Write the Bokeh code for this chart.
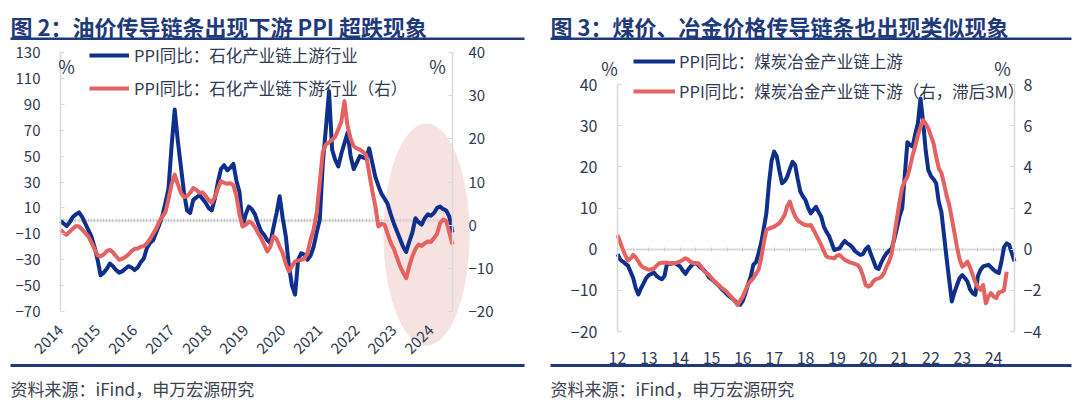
import math
from bokeh.plotting import figure
from bokeh.models import (Range1d, LinearAxis, FixedTicker, Label, BoxAnnotation,
                          PolyAnnotation, Legend, LegendItem)
from bokeh.layouts import row
from bokeh.embed import file_html
from bokeh.resources import INLINE

# ---------------- data: figure 2 (monthly, 2014-01 .. 2024-08) ----------------
fig2_title = "图 2：油价传导链条出现下游 PPI 超跌现象"
fig2_names = ["PPI同比：石化产业链上游行业", "PPI同比：石化产业链下游行业（右）"]
fig2_years = ["2014", "2015", "2016", "2017", "2018", "2019", "2020", "2021", "2022", "2023", "2024"]
fig2_upstream = [
    0, -2, -4, -1, 3, 5, 6.5, 3, -2, -7, -12, -20,
    -30, -42, -40, -37, -33, -35, -38, -40, -39, -37, -35, -36,
    -38, -36, -32, -29, -21, -17, -15, -9, -3, 4, 14, 25,
    58, 86, 62, 42, 22, 8, 6, 16, 18, 20, 17, 14,
    10, 8, 17, 30, 40, 43, 39, 41, 44, 31, 22, -4,
    5, 11, 9, 5, -2, -8, -11, -15, -17, -5, 6, 19,
    2, -12, -35, -50, -57, -30, -25, -26, -30, -27, -20, -9,
    1, 45, 72, 100, 55, 47, 42, 52, 60, 68, 50, 40,
    45, 50, 49, 48, 56, 45, 34, 27, 21, 17, 13, 5,
    -2, -8, -14, -20, -24, -16, -9, 2, -1, -3, 2, 5,
    4, 6, 10, 11, 9, 8, 3, -9,
]
fig2_downstream = [
    -1.0, -1.8, -2.2, -1.5, -0.8, -0.2, -0.3, -1.0, -1.8, -2.6, -4.0, -5.5,
    -7.0, -7.2, -6.8, -6.0, -5.7, -6.3, -7.2, -8.0, -7.8, -7.4, -6.8, -6.0,
    -5.5, -5.4, -5.0, -4.9, -4.2, -3.2, -2.0, -0.8, 0.8, 2.0, 3.0, 6.0,
    9.5, 11.7, 9.5, 7.5, 6.5, 6.7, 7.5, 8.6, 8.2, 7.5, 7.6, 6.8,
    5.8, 5.2, 6.5, 8.5, 10.2, 9.8, 9.6, 9.7, 9.3, 6.7, 2.5, -0.3,
    0.1, 0.8, 0.5, -0.5, -1.8, -3.0, -4.5, -6.1, -5.0, -2.6, -3.2, -5.0,
    -6.5, -9.0, -10.7, -9.5, -8.4, -8.2, -8.0, -7.8, -6.5, -3.4, -1.0, 2.8,
    10.0, 17.0, 18.7, 19.2, 19.8, 20.5, 22.2, 24.0, 28.7, 23.0, 20.0, 18.3,
    17.8, 17.5, 17.0, 16.3, 12.1, 8.0, 4.4, -0.3, 0.3, 0.1, -2.0, -4.1,
    -5.5, -7.5, -9.5, -11.0, -12.3, -9.5, -7.2, -5.5, -4.5, -4.8, -4.2, -3.8,
    -3.9, -3.0, -2.0, 0.5, 1.3, 0.9, -1.8, -4.5,
]
fig2_left_ticks = [-70, -50, -30, -10, 10, 30, 50, 70, 90, 110, 130]
fig2_right_ticks = [-20, -10, 0, 10, 20, 30, 40]

# ---------------- data: figure 3 (monthly, 2012-01 .. 2024-09) ----------------
fig3_title = "图 3：煤价、冶金价格传导链条也出现类似现象"
fig3_names = ["PPI同比：煤炭冶金产业链上游", "PPI同比：煤炭冶金产业链下游（右，滞后3M）"]
fig3_years = ["12", "13", "14", "15", "16", "17", "18", "19", "20", "21", "22", "23", "24"]
fig3_upstream = [
    -1.2, -2.5, -3.0, -3.5, -4.0, -5.5, -7.0, -9.5, -11.0, -9.5, -8.3, -7.0,
    -6.3, -6.0, -5.7, -6.5, -7.0, -7.3, -6.5, -3.4, -3.6, -3.4, -3.4, -3.8,
    -4.2, -5.2, -6.0, -5.0, -4.2, -3.6, -3.4, -4.0, -4.6, -5.0, -5.8, -6.8,
    -7.3, -7.8, -8.4, -9.0, -9.8, -10.3, -11.0, -11.6, -12.0, -12.6, -13.2, -13.5,
    -12.5, -10.7, -8.5, -6.7, -3.8, -3.2, -1.0, 1.5, 5.0, 8.7, 16.0, 21.5,
    23.7, 22.5, 19.0, 16.0, 16.5, 17.6, 19.5, 21.2, 20.5, 17.0, 14.0, 12.8,
    11.9, 10.0, 8.7, 9.5, 10.3, 9.0, 7.9, 5.5, 4.2, 3.2, 1.5, -0.2,
    0.0, 0.2, 1.2, 2.0, 1.4, 1.0, 0.4, -0.5, -1.0, -1.4, -1.2, 0.0,
    0.6, -1.2, -2.8, -4.5, -4.8, -3.2, -2.0, -1.0, -0.4, 0.2, 2.5, 5.1,
    8.0, 9.9, 18.0, 26.0, 25.3, 24.9, 28.0, 30.5, 36.6, 31.0, 24.0, 19.2,
    17.8, 17.0, 16.0, 11.5, 9.1, 3.5, -2.2, -7.5, -12.7, -10.5, -8.7, -7.0,
    -6.3, -7.0, -7.9, -9.8, -10.7, -11.1, -6.5, -5.0, -4.2, -4.0, -3.8, -4.4,
    -5.0, -5.5, -5.8, -3.0, 0.5, 1.4, 1.0, -1.0, -3.0,
]
fig3_downstream = [
    0.69, 0.35, 0.0, -0.3, -0.55, -0.45, -0.28, -0.4, -0.6, -0.8, -0.9, -0.95,
    -1.0, -0.98, -0.93, -0.8, -0.68, -0.66, -0.66, -0.65, -0.7, -0.68, -0.68, -0.64,
    -0.6, -0.52, -0.44, -0.5, -0.62, -0.68, -0.7, -0.68, -0.85, -1.05, -1.15, -1.25,
    -1.4, -1.55, -1.66, -1.78, -1.9, -1.98, -2.1, -2.25, -2.38, -2.55, -2.71, -2.5,
    -2.3, -2.0, -1.7, -1.55, -1.41, -1.2, -1.0, -0.45, 0.3, 0.93, 1.0, 1.05,
    1.09, 1.18, 1.26, 1.45, 1.66, 2.1, 2.31, 1.9, 1.6, 1.4, 1.3, 1.22,
    1.17, 1.15, 1.17, 0.95, 0.7, 0.45, 0.2, -0.1, -0.36, -0.4, -0.42, -0.44,
    -0.32, -0.28, -0.4, -0.52, -0.58, -0.64, -0.68, -0.72, -0.77, -0.95, -1.3, -1.74,
    -1.82, -1.75, -1.55, -1.45, -1.42, -1.35, -1.17, -0.85, -0.6, -0.2, 0.7, 1.5,
    2.3, 3.0, 3.3, 3.52, 4.0, 4.57, 5.0, 5.54, 5.9, 6.27, 6.1, 5.87,
    5.5, 5.14, 4.5, 3.93, 3.7, 3.2, 2.6, 2.15, 1.5, 0.8, 0.1, -0.5,
    -0.85, -0.75, -0.6, -0.9, -1.25, -1.6, -1.85, -1.98, -1.74, -2.63, -2.3, -2.14,
    -2.3, -2.38, -2.1, -2.06, -2.0, -1.1,
]
fig3_left_ticks = [-20, -10, 0, 10, 20, 30, 40]
fig3_right_ticks = [-4, -2, 0, 2, 4, 6, 8]

source_text = "资料来源：iFind，申万宏源研究"

# ---------------- styles ----------------
FONT = "Noto Sans CJK SC"
NAVY = "#1f3a7a"
BLUE = "#0e2f8c"
RED = "#e4625f"
TXT = "#2f3a52"
AXC = "#d9d9d9"
PINK = "#f2cfcf"
H = 404


def span_range(v0, p0, v1, p1, total, flip=False):
    """range whose value v0 sits at pixel p0 and v1 at pixel p1 of a 0..total canvas"""
    k = (v1 - v0) / (p1 - p0)
    a = v0 + (0 - p0) * k
    b = v0 + (total - p0) * k
    return (b, a) if flip else (a, b)


def make_panel(W, frame, title, names, up, down, xlabels, xstep,
               lticks, rticks, tick_size, lstand, rstand, rotate, xstand,
               legend_rows, zero_step, zero_tick, rule_x):
    L, R, T, B = frame                         # pixel positions inside this canvas
    n = len(up) - 1
    xr = span_range(0, L, n, R, W)
    yl = span_range(lticks[-1], T, lticks[0], B, H, flip=True)
    yr = span_range(rticks[-1], T, rticks[0], B, H, flip=True)
    p = figure(width=W, height=H, x_range=Range1d(*xr), y_range=Range1d(*yl),
               output_backend="svg", toolbar_location=None,
               x_axis_location=None, y_axis_location=None,
               min_border=0, min_border_left=0, min_border_right=0,
               min_border_top=0, min_border_bottom=0,
               background_fill_color="white", border_fill_color="white")
    p.title.visible = False
    p.outline_line_color = None
    p.grid.visible = False
    p.extra_y_ranges = {"r": Range1d(*yr)}

    fx = lambda px: xr[0] + px / W * (xr[1] - xr[0])
    fy = lambda py: yl[1] - py / H * (yl[1] - yl[0])

    # zero line with small tick marks
    zero = LinearAxis(fixed_location=0, bounds=(0, n),
                      ticker=FixedTicker(ticks=[], minor_ticks=list(range(0, n + 1, zero_step))))
    zero.axis_line_color = AXC
    zero.axis_line_width = 2
    zero.minor_tick_in = zero_tick
    zero.minor_tick_out = zero_tick
    zero.minor_tick_line_color = "#cdcdcd"
    zero.major_tick_line_color = None
    zero.level = "underlay"
    p.add_layout(zero, "below")

    # y axes drawn at the first / last month
    for side, rng_name, ticks, loc, stand in (("left", "default", lticks, 0, lstand),
                                              ("right", "r", rticks, n, rstand)):
        ax = LinearAxis(y_range_name=rng_name, fixed_location=loc,
                        bounds=(ticks[0], ticks[-1]), ticker=FixedTicker(ticks=ticks))
        ax.axis_line_color = AXC
        ax.axis_line_width = 1.5
        ax.major_tick_line_color = AXC
        ax.major_tick_in = 4
        ax.major_tick_out = 0
        ax.minor_tick_line_color = None
        ax.major_label_text_font = FONT
        ax.major_label_text_font_size = tick_size
        ax.major_label_text_color = TXT
        ax.major_label_standoff = stand
        p.add_layout(ax, side)

    # x axis labels (years) under the plotting area
    xt = [i * xstep for i in range(len(xlabels))]
    xa = LinearAxis(fixed_location=lticks[0], ticker=FixedTicker(ticks=xt),
                    major_label_overrides={t: s for t, s in zip(xt, xlabels)})
    xa.axis_line_color = None
    xa.major_tick_line_color = None
    xa.minor_tick_line_color = None
    xa.major_label_text_font = FONT
    xa.major_label_text_font_size = tick_size
    xa.major_label_text_color = TXT
    xa.major_label_standoff = xstand
    if rotate:
        xa.major_label_orientation = math.pi / 4
    p.add_layout(xa, "below")

    r1 = p.line(list(range(len(up))), up, line_color=BLUE, line_width=4, line_join="round")
    r2 = p.line(list(range(len(down))), down, y_range_name="r", line_color=RED,
                line_width=4, line_join="round")

    (lx0, ly0, pitch, gw, stand) = legend_rows
    top = ly0 - 10
    bottom = top + 40 + (pitch - 20)
    leg = Legend(items=[LegendItem(label=names[0], renderers=[r1]),
                        LegendItem(label=names[1], renderers=[r2])],
                 location=(lx0, H - bottom), orientation="vertical",
                 glyph_width=gw, glyph_height=20, label_height=20, spacing=pitch - 20,
                 padding=0, margin=0, label_standoff=stand,
                 label_text_font=FONT, label_text_font_size="16.5px",
                 label_text_color=TXT, background_fill_alpha=0, border_line_alpha=0)
    p.add_layout(leg)

    # title, rules, source
    xa_, xb_ = rule_x
    p.add_layout(Label(x=fx(xa_), y=fy(25), text=title, text_font=FONT,
                       text_font_size="22px", text_font_style="bold",
                       text_color=NAVY, text_baseline="middle", text_align="left"))
    p.add_layout(BoxAnnotation(left=fx(xa_), right=fx(xb_), top=fy(37), bottom=fy(39.5),
                               fill_color=NAVY, fill_alpha=1, line_alpha=0))
    p.add_layout(BoxAnnotation(left=fx(xa_), right=fx(xb_), top=fy(363.5), bottom=fy(366.5),
                               fill_color=NAVY, fill_alpha=1, line_alpha=0))
    p.add_layout(Label(x=fx(xa_), y=fy(388), text=source_text, text_font=FONT,
                       text_font_size="17px", text_color="#3d4250",
                       text_baseline="middle", text_align="left"))
    return p, fx, fy


def percent_labels(p, fx, fy, xs, y):
    for xp in xs:
        p.add_layout(Label(x=fx(xp), y=fy(y), text="%", text_font=FONT,
                           text_font_size="18px", text_color=TXT,
                           text_align="center", text_baseline="middle"))


# ---------------- figure 2 (canvas x 0..540) ----------------
p1, fx1, fy1 = make_panel(540, (60, 452, 52, 311), fig2_title, fig2_names,
                          fig2_upstream, fig2_downstream, fig2_years, 12,
                          fig2_left_ticks, fig2_right_ticks, "15px", 20, 16, True, 10,
                          (89, 61, 29, 40, 5), 1, 2, (10, 524))
cx, cy = fx1(426), fy1(234)
ax_, by_ = fx1(469) - fx1(426), fy1(123) - fy1(234)
ex = [cx + ax_ * math.cos(2 * math.pi * k / 90) for k in range(90)]
ey = [cy + by_ * math.sin(2 * math.pi * k / 90) for k in range(90)]
p1.add_layout(PolyAnnotation(xs=ex, ys=ey, fill_color=PINK, fill_alpha=0.6,
                             line_alpha=0, level="underlay"))
percent_labels(p1, fx1, fy1, (66, 437), 65)

# ---------------- figure 3 (canvas x 540..1080) ----------------
p2, fx2, fy2 = make_panel(540, (77, 474, 84, 331), fig3_title, fig3_names,
                          fig3_upstream, fig3_downstream, fig3_years, 12,
                          fig3_left_ticks, fig3_right_ticks, "16px", 20, 9, False, 14,
                          (93, 67, 26, 42, 4), 6, 2, (10, 531))
percent_labels(p2, fx2, fy2, (69, 462), 67)

layout = row(p1, p2, spacing=0)
open("out.html", "w").write(file_html(layout, INLINE))
